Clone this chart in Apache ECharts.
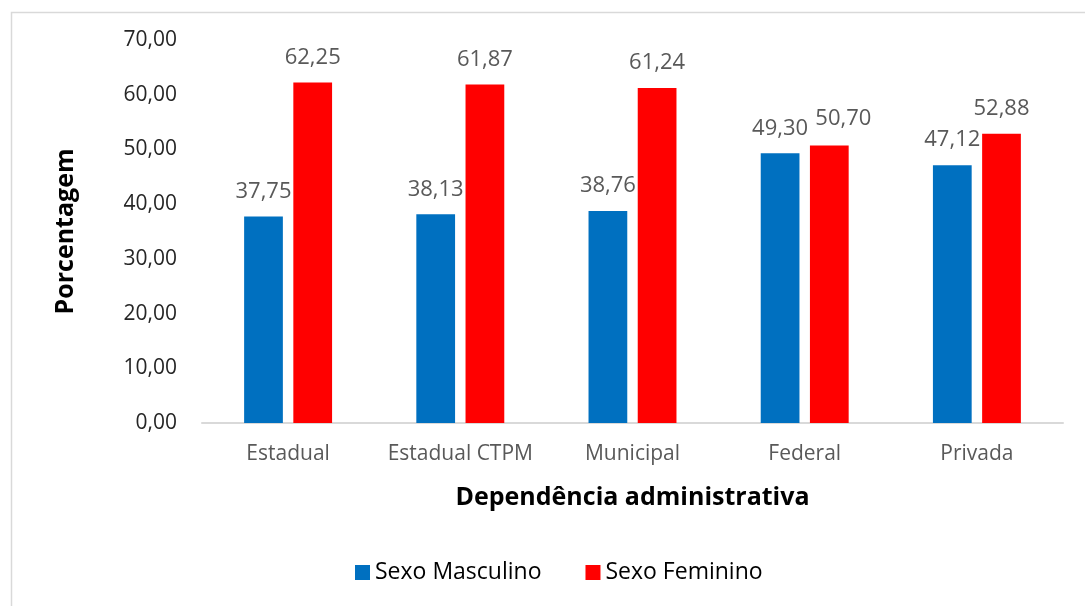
<!DOCTYPE html>
<html>
<head>
<meta charset="utf-8">
<script src="https://cdn.jsdelivr.net/npm/echarts@6/dist/echarts.min.js"></script>
<style>
html,body{margin:0;padding:0;background:#fff;}
#c{width:1085px;height:606px;}
</style>
</head>
<body>
<div id="c"></div>
<script>
var categories = ['Estadual', 'Estadual CTPM', 'Municipal', 'Federal', 'Privada'];
var masculino = [37.75, 38.13, 38.76, 49.30, 47.12];
var feminino = [62.25, 61.87, 61.24, 50.70, 52.88];
var seriesNames = ['Sexo Masculino', 'Sexo Feminino'];

var FONT = '"Open Sans", "Noto Sans", sans-serif';
function fmt(v){ return v.toFixed(2).replace('.', ','); }

var femData = feminino.map(function(v, i){
  return i === 3 ? { value: v, label: { offset: [14, -2] } } : v;
});

var chart = echarts.init(document.getElementById('c'));
chart.setOption({
  animation: false,
  textStyle: { fontFamily: FONT },
  graphic: [{
    type: 'rect', left: 9, top: 10,
    shape: { width: 1100, height: 620 },
    style: { fill: 'none', stroke: '#d9d9d9', lineWidth: 1.5 },
    silent: true
  }],
  grid: { left: 202, right: 22, top: 40, bottom: 183 },
  legend: {
    bottom: 17, left: 350,
    itemWidth: 15, itemHeight: 15, itemGap: 44,
    icon: 'rect',
    textStyle: { fontSize: 23, color: '#000', fontFamily: FONT },
    data: seriesNames
  },
  xAxis: {
    type: 'category', data: categories,
    axisLine: { lineStyle: { color: '#d9d9d9', width: 2 } },
    axisTick: { show: false },
    axisLabel: { interval: 0, fontSize: 21, color: '#595959', margin: 21, fontFamily: FONT },
    name: 'Dependência administrativa', nameLocation: 'middle', nameGap: 62,
    nameTextStyle: { fontSize: 25, fontWeight: 'bold', color: '#000', fontFamily: FONT }
  },
  yAxis: {
    type: 'value', min: 0, max: 70, interval: 10,
    axisLine: { show: false }, axisTick: { show: false },
    splitLine: { show: false },
    axisLabel: { fontSize: 21, color: '#262626', margin: 25, formatter: function(v){ return fmt(v); }, fontFamily: FONT },
    name: 'Porcentagem', nameLocation: 'middle', nameGap: 124,
    nameTextStyle: { fontSize: 25, fontWeight: 'bold', color: '#000', fontFamily: FONT }
  },
  series: [
    { name: seriesNames[0], type: 'bar', data: masculino, barWidth: '22.5%', barGap: '27%',
      itemStyle: { color: '#0070C0' },
      label: { show: true, position: 'top', distance: 14, fontSize: 22, color: '#595959', fontFamily: FONT,
        formatter: function(p){ return fmt(p.value); } } },
    { name: seriesNames[1], type: 'bar', data: femData, barWidth: '22.5%', barGap: '27%',
      itemStyle: { color: '#FF0000' },
      label: { show: true, position: 'top', distance: 14, fontSize: 22, color: '#595959', fontFamily: FONT,
        formatter: function(p){ return fmt(p.value); } } }
  ]
});
</script>
</body>
</html>
